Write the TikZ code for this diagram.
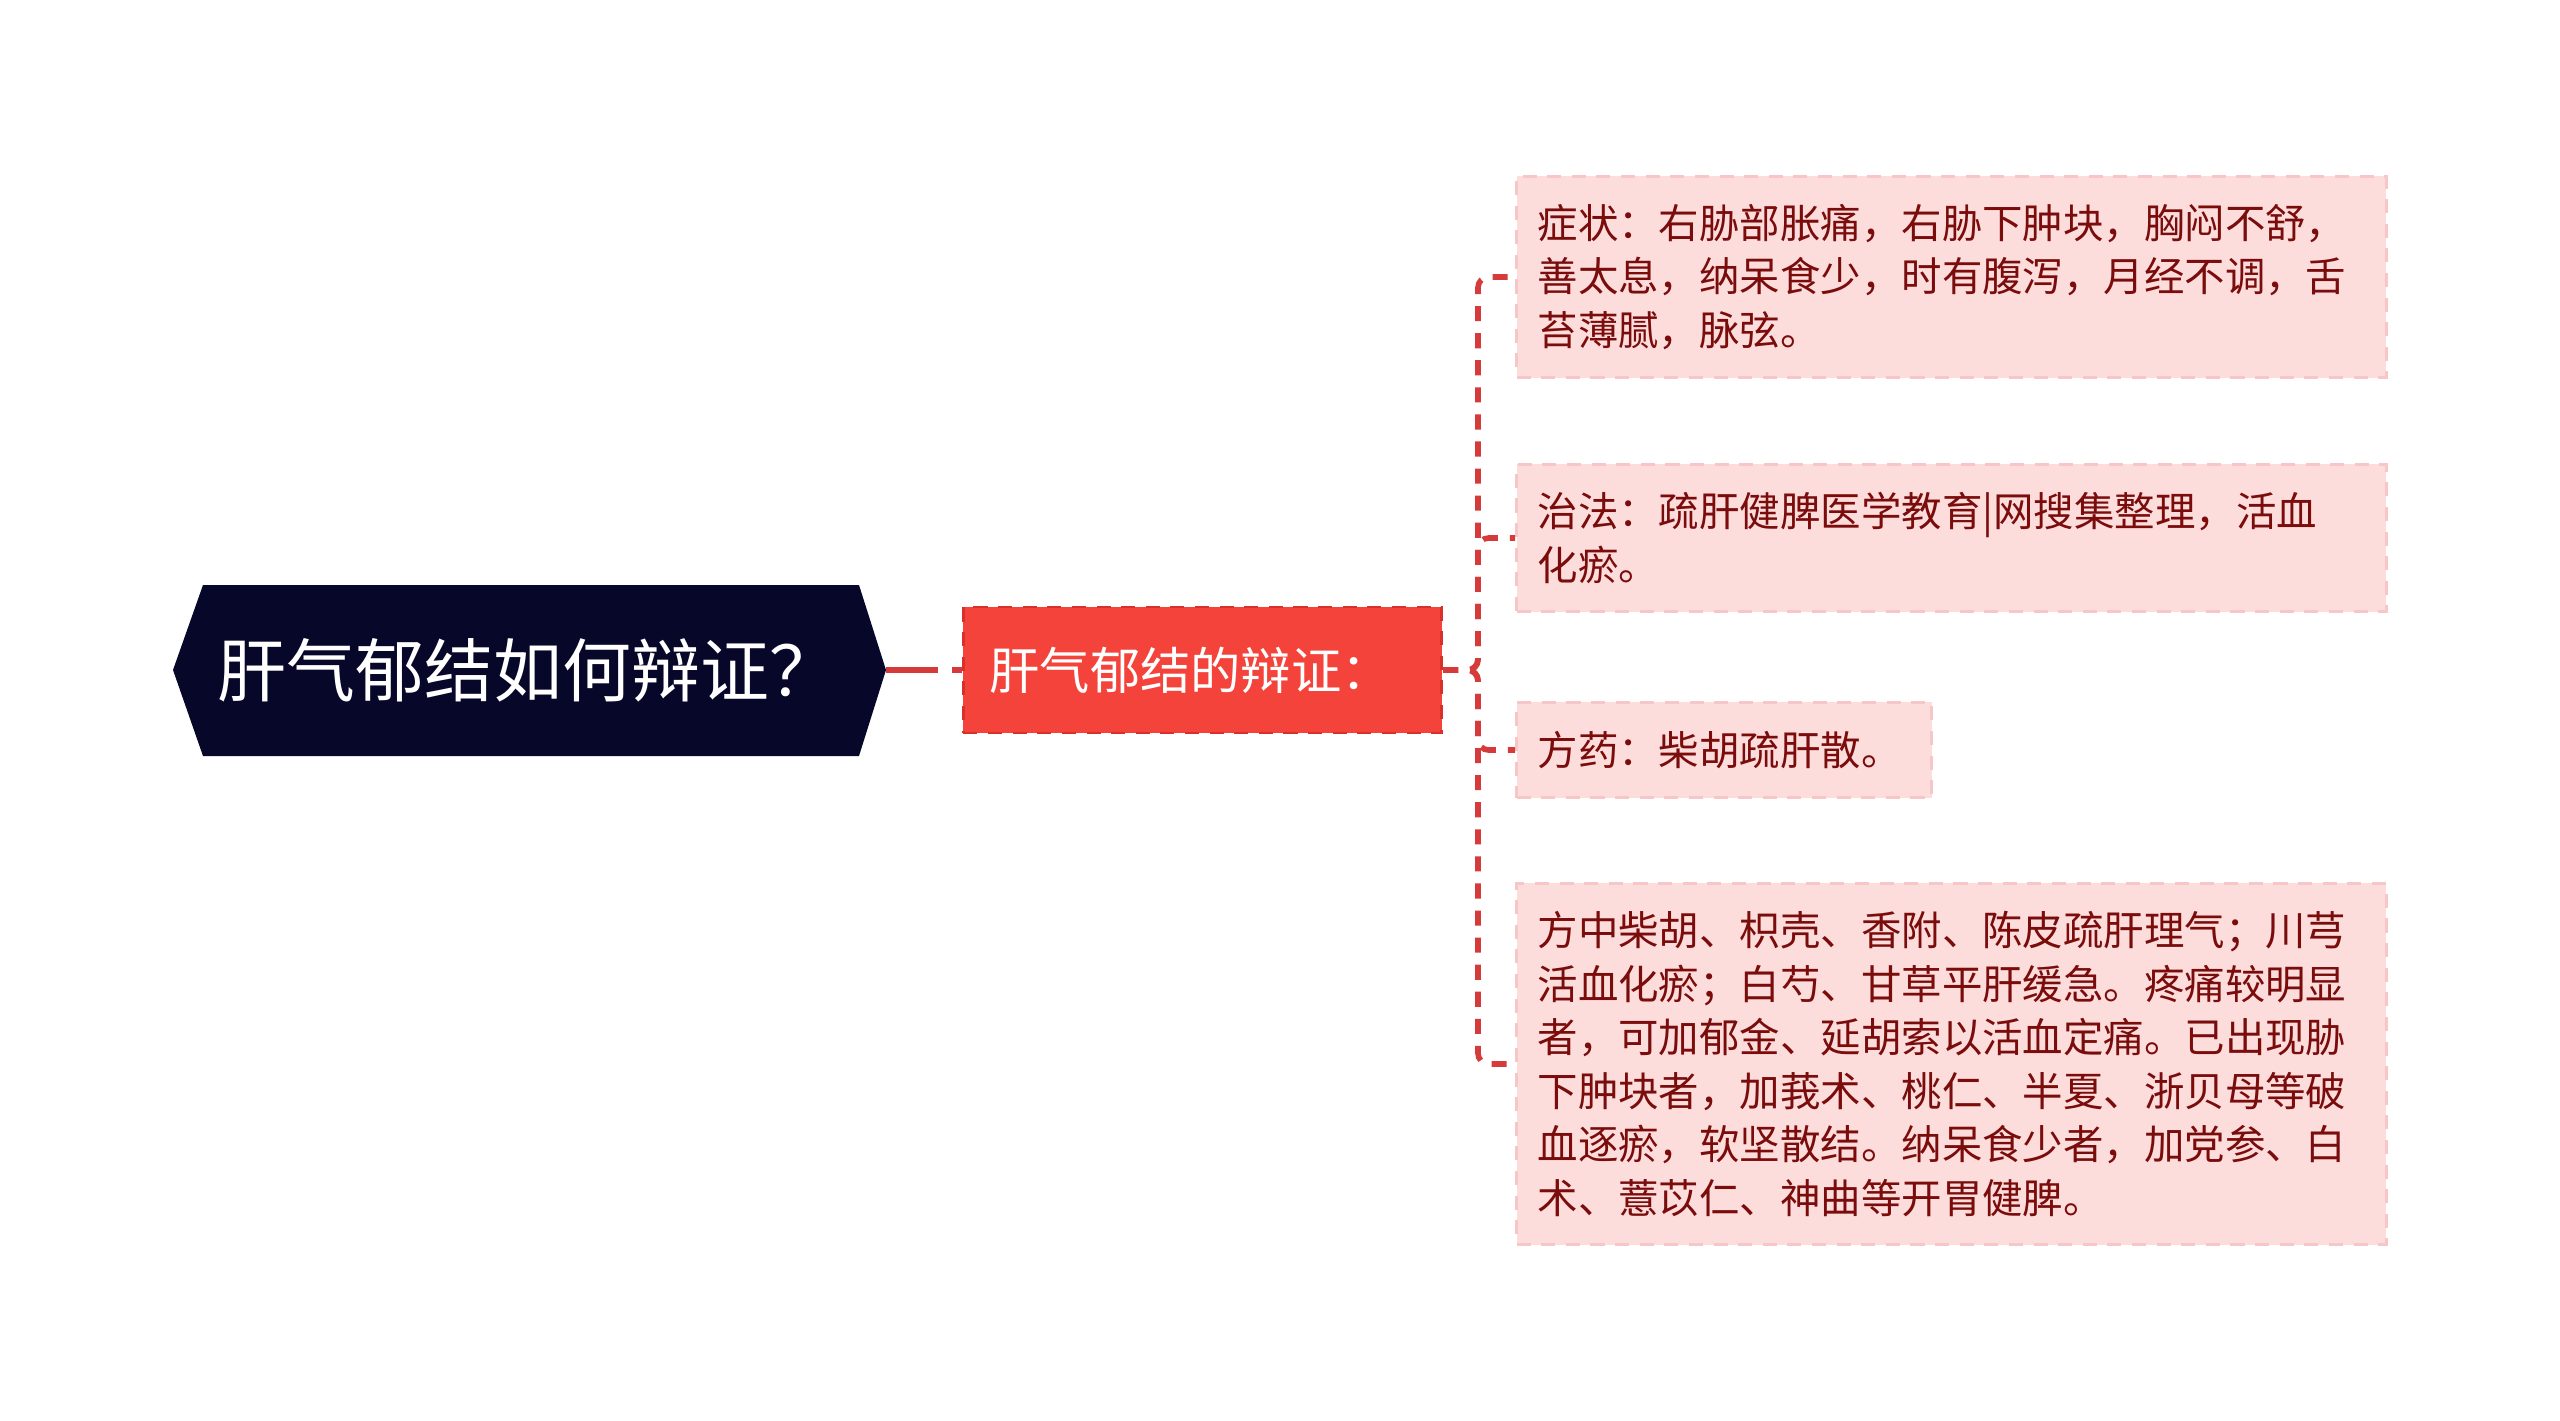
\documentclass[tikz,border=0pt]{standalone}
\usepackage{fontspec}
\setmainfont{Noto Sans CJK SC}
\usetikzlibrary{calc,positioning}
\definecolor{rootnavy}{HTML}{07072A}
\definecolor{subred}{HTML}{F4433A}
\definecolor{subedge}{HTML}{D9302A}
\definecolor{leafpink}{HTML}{FDDCDC}
\definecolor{leafedge}{HTML}{F7C6C6}
\definecolor{leaftext}{HTML}{7A0C0C}
\definecolor{linkred}{HTML}{D63B3B}
\tikzset{
  leaf/.style={anchor=west, fill=leafpink, draw=leafedge, line width=0.9pt,
    dash pattern=on 4pt off 3pt, text=leaftext, align=left,
    inner xsep=0.21cm, inner ysep=0pt,
    font=\fontsize{11.5pt}{15.2pt}\selectfont},
  link/.style={linkred, line width=1.6pt, dash pattern=on 4.3pt off 3.4pt}
}
\begin{document}
\begin{tikzpicture}[x=0.01cm, y=-0.01cm]
    \useasboundingbox (0,0) rectangle (2560,1421);

    % root question
    \fill[rootnavy] (203,585) -- (859,585) -- (886,670) -- (859,756)
        -- (203,756) -- (173,670) -- cycle;
    \node[text=white, font=\fontsize{19.6pt}{22pt}\selectfont] (root) at (528,670) {肝气郁结如何辩证？};
    \coordinate (rootr) at (886,670);

    % sub topic
    \node[anchor=west, fill=subred, draw=subedge, line width=0.8pt, dash pattern=on 4pt off 3pt,
        text=white, align=left, text width=4.26cm, inner xsep=0.26cm,
        minimum height=1.26cm, font=\fontsize{14.3pt}{16pt}\selectfont]
        (sub) at (962,670) {肝气郁结的辩证：};

    % leaves
    \node[leaf, text width=8.27cm, minimum height=2.01cm] (symp) at (1515,277)
        {症状：右胁部胀痛，右胁下肿块，胸闷不舒，\\善太息，纳呆食少，时有腹泻，月经不调，舌\\苔薄腻，脉弦。};
    \node[leaf, text width=8.27cm, minimum height=1.47cm] (cure) at (1515,538)
        {治法：疏肝健脾医学教育|网搜集整理，活血\\化瘀。};
    \node[leaf, text width=3.73cm, minimum height=0.95cm] (pres) at (1515,750)
        {方药：柴胡疏肝散。};
    \node[leaf, text width=8.27cm, minimum height=3.61cm] (herb) at (1515,1064)
        {方中柴胡、枳壳、香附、陈皮疏肝理气；川芎\\活血化瘀；白芍、甘草平肝缓急。疼痛较明显\\者，可加郁金、延胡索以活血定痛。已出现胁\\下肿块者，加莪术、桃仁、半夏、浙贝母等破\\血逐瘀，软坚散结。纳呆食少者，加党参、白\\术、薏苡仁、神曲等开胃健脾。};

    % connectors
    \draw[linkred, line width=1.6pt, dash pattern=on 0.52cm off 0.14cm] (rootr) -- (sub.west);
    \coordinate (fork) at (1478,670);
    \foreach \leafname in {symp,cure,pres,herb}
        \draw[link, rounded corners=3pt] (sub.east) -- (fork) |- (\leafname.west);
\end{tikzpicture}
\end{document}
